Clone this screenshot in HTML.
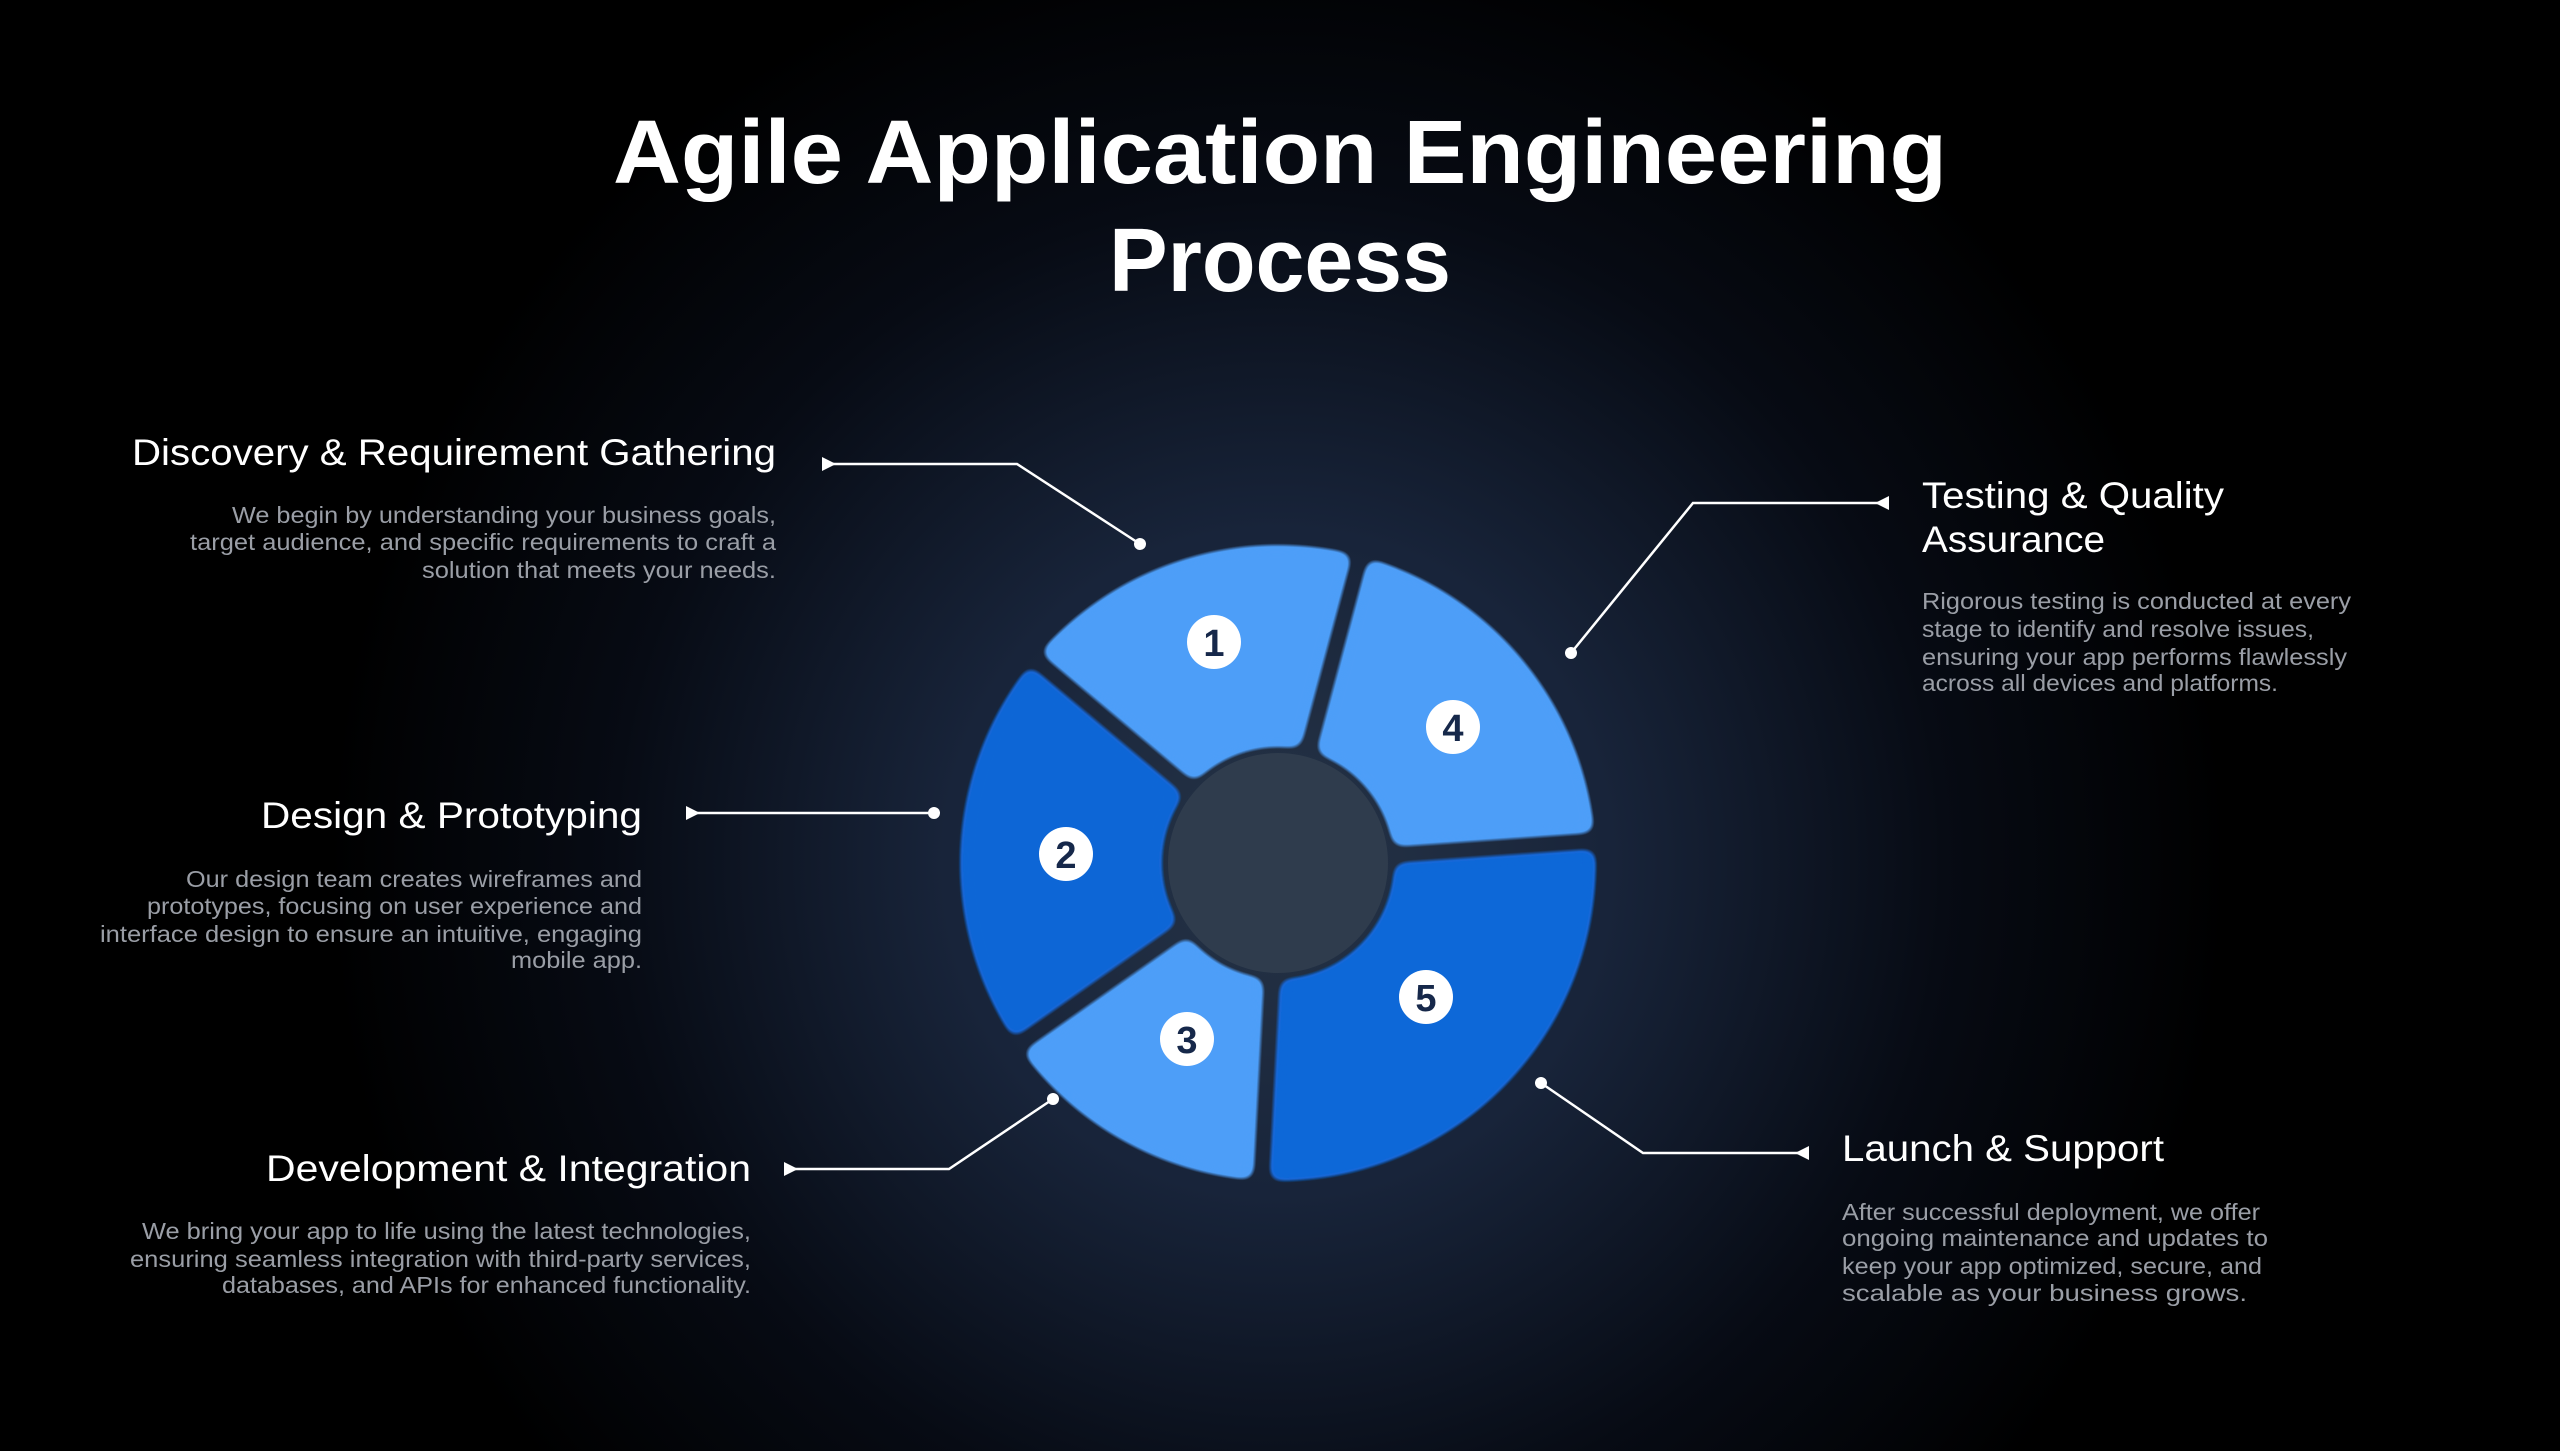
<!DOCTYPE html>
<html><head><meta charset="utf-8"><style>
html,body{margin:0;padding:0;background:#000;}
svg{display:block}
text{font-family:"Liberation Sans",sans-serif}
</style></head><body>
<svg width="2560" height="1451" viewBox="0 0 2560 1451" xmlns="http://www.w3.org/2000/svg">
<defs>
<radialGradient id="bg" cx="1278" cy="863" r="950" gradientUnits="userSpaceOnUse">
<stop offset="0" stop-color="#263447"/>
<stop offset="0.35" stop-color="#18243a"/>
<stop offset="0.7" stop-color="#070b14"/>
<stop offset="1" stop-color="#000"/>
</radialGradient>
<mask id="m" maskUnits="userSpaceOnUse" x="0" y="0" width="2560" height="1451">
<rect x="0" y="0" width="2560" height="1451" fill="#fff"/>
<g stroke="#000" stroke-width="16">
<line x1="1278" y1="863" x2="1002.2" y2="631.6"/>
<line x1="1278" y1="863" x2="1371.2" y2="515.3"/>
<line x1="1278" y1="863" x2="1637.1" y2="837.9"/>
<line x1="1278" y1="863" x2="1259.2" y2="1222.5"/>
<line x1="1278" y1="863" x2="983.1" y2="1069.5"/>
</g>
<circle cx="1278" cy="863" r="116" fill="#000"/>
</mask>
<filter id="rd" x="-10%" y="-10%" width="120%" height="120%">
<feGaussianBlur stdDeviation="7"/>
<feComponentTransfer><feFuncA type="table" tableValues="0 0 0 1 1 1"/></feComponentTransfer>
</filter>
</defs>
<rect width="2560" height="1451" fill="url(#bg)"/>

<text x="1280" y="183" font-size="90" font-weight="bold" fill="#fff" text-anchor="middle" textLength="1334" lengthAdjust="spacingAndGlyphs">Agile Application Engineering</text>
<text x="1280" y="291" font-size="90" font-weight="bold" fill="#fff" text-anchor="middle" textLength="342" lengthAdjust="spacingAndGlyphs">Process</text>

<circle cx="1278" cy="863" r="110" fill="#2f3c4d"/>
<g filter="url(#rd)">
<g mask="url(#m)">
<path d="M1278 863 L1034.4 658.6 A318 318 0 0 1 1360.3 555.8 Z" fill="#4d9ef8"/>
<path d="M1278 863 L1360.3 555.8 A318 318 0 0 1 1595.2 840.8 Z" fill="#4d9ef8"/>
<path d="M1278 863 L1595.2 840.8 A318 318 0 0 1 1261.4 1180.6 Z" fill="#0a68d8"/>
<path d="M1278 863 L1261.4 1180.6 A318 318 0 0 1 1017.5 1045.4 Z" fill="#4d9ef8"/>
<path d="M1278 863 L1017.5 1045.4 A318 318 0 0 1 1034.4 658.6 Z" fill="#0a66d6"/>
</g>
</g>
<g fill="#fff">
<circle cx="1214" cy="642" r="27"/><circle cx="1453" cy="727" r="27"/><circle cx="1066" cy="854" r="27"/><circle cx="1426" cy="997" r="27"/><circle cx="1187" cy="1039" r="27"/>
</g>
<g fill="#16284a" font-size="38" font-weight="bold" text-anchor="middle">
<text x="1214" y="656">1</text><text x="1453" y="741">4</text><text x="1066" y="868">2</text><text x="1426" y="1011">5</text><text x="1187" y="1053">3</text>
</g>

<g stroke="#fff" stroke-width="2.5" fill="none">
<polyline points="830,464 1017,464 1140,544"/>
<polyline points="694,813 934,813"/>
<polyline points="792,1169 949,1169 1053,1099"/>
<polyline points="1881,503 1693,503 1571,653"/>
<polyline points="1801,1153 1643,1153 1541,1083"/>
</g>
<g fill="#fff">
<circle cx="1140" cy="544" r="6"/><circle cx="934" cy="813" r="6"/><circle cx="1053" cy="1099" r="6"/><circle cx="1571" cy="653" r="6"/><circle cx="1541" cy="1083" r="6"/>
<polygon points="822,457 836,464 822,471"/>
<polygon points="686,806 700,813 686,820"/>
<polygon points="784,1162 798,1169 784,1176"/>
<polygon points="1889,496 1875,503 1889,510"/>
<polygon points="1809,1146 1795,1153 1809,1160"/>
</g>

<g fill="#fff" font-size="37">
<text x="132" y="465" textLength="644" lengthAdjust="spacingAndGlyphs">Discovery &amp; Requirement Gathering</text>
<text x="261" y="828" textLength="381" lengthAdjust="spacingAndGlyphs">Design &amp; Prototyping</text>
<text x="266" y="1181" textLength="485" lengthAdjust="spacingAndGlyphs">Development &amp; Integration</text>
<text x="1922" y="508" textLength="302" lengthAdjust="spacingAndGlyphs">Testing &amp; Quality</text>
<text x="1922" y="552" textLength="183" lengthAdjust="spacingAndGlyphs">Assurance</text>
<text x="1842" y="1161" textLength="322" lengthAdjust="spacingAndGlyphs">Launch &amp; Support</text>
</g>
<g fill="#9a9ea6" font-size="23" text-anchor="end">
<text x="776" y="523" textLength="544" lengthAdjust="spacingAndGlyphs">We begin by understanding your business goals,</text>
<text x="776" y="550" textLength="586" lengthAdjust="spacingAndGlyphs">target audience, and specific requirements to craft a</text>
<text x="776" y="578" textLength="354" lengthAdjust="spacingAndGlyphs">solution that meets your needs.</text>
<text x="642" y="887" textLength="456" lengthAdjust="spacingAndGlyphs">Our design team creates wireframes and</text>
<text x="642" y="914" textLength="495" lengthAdjust="spacingAndGlyphs">prototypes, focusing on user experience and</text>
<text x="642" y="942" textLength="542" lengthAdjust="spacingAndGlyphs">interface design to ensure an intuitive, engaging</text>
<text x="642" y="968" textLength="131" lengthAdjust="spacingAndGlyphs">mobile app.</text>
<text x="751" y="1239" textLength="609" lengthAdjust="spacingAndGlyphs">We bring your app to life using the latest technologies,</text>
<text x="751" y="1267" textLength="621" lengthAdjust="spacingAndGlyphs">ensuring seamless integration with third-party services,</text>
<text x="751" y="1293" textLength="529" lengthAdjust="spacingAndGlyphs">databases, and APIs for enhanced functionality.</text>
</g>
<g fill="#9a9ea6" font-size="23">
<text x="1922" y="609" textLength="429" lengthAdjust="spacingAndGlyphs">Rigorous testing is conducted at every</text>
<text x="1922" y="637" textLength="392" lengthAdjust="spacingAndGlyphs">stage to identify and resolve issues,</text>
<text x="1922" y="665" textLength="425" lengthAdjust="spacingAndGlyphs">ensuring your app performs flawlessly</text>
<text x="1922" y="691" textLength="356" lengthAdjust="spacingAndGlyphs">across all devices and platforms.</text>
<text x="1842" y="1220" textLength="418" lengthAdjust="spacingAndGlyphs">After successful deployment, we offer</text>
<text x="1842" y="1246" textLength="426" lengthAdjust="spacingAndGlyphs">ongoing maintenance and updates to</text>
<text x="1842" y="1274" textLength="420" lengthAdjust="spacingAndGlyphs">keep your app optimized, secure, and</text>
<text x="1842" y="1301" textLength="405" lengthAdjust="spacingAndGlyphs">scalable as your business grows.</text>
</g>
</svg>
</body></html>
